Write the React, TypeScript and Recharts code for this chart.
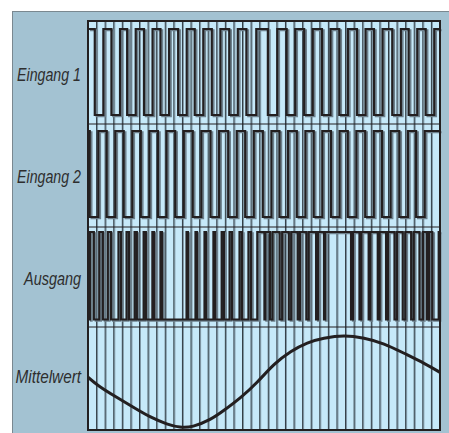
import React from 'react';
import { ComposedChart, Line, XAxis, YAxis, ReferenceLine } from 'recharts';

// ---------- data (time in grid units, 41 cells across) ----------
const gridTicks = [1, 2, 3, 4, 5, 6, 7, 8, 9, 10, 11, 12, 13, 14, 15, 16, 17, 18, 19, 20,
  21, 22, 23, 24, 25, 26, 27, 28, 29, 30, 31, 32, 33, 34, 35, 36, 37, 38, 39, 40];

const rowLabels = ['Eingang 1', 'Eingang 2', 'Ausgang', 'Mittelwert'];

const eingang1Start = 1;
const eingang1Edges = [0.79, 1.79, 2.73, 3.73, 4.56, 5.56, 6.52, 7.52, 8.44, 9.44, 10.5, 11.5,
  12.43, 13.43, 14.42, 15.42, 16.45, 17.45, 18.45, 19.6, 20.95, 22.05, 23.14, 24.14, 25.18, 26.18,
  27.25, 28.25, 29.27, 30.27, 31.33, 32.33, 33.31, 34.31, 35.44, 36.44, 37.35, 38.35, 39.33, 40.33];

const eingang2Start = 1;
const eingang2Edges = [0.2, 1.2, 2.18, 3.18, 4.16, 5.16, 6.15, 7.15, 8.15, 9.15, 10.16, 11.16,
  12.2, 13.2, 14.27, 15.27, 16.33, 17.33, 18.31, 19.31, 20.36, 21.36, 22.3, 23.3, 24.32, 25.32,
  26.29, 27.29, 28.3, 29.3, 30.26, 31.26, 32.29, 33.29, 34.25, 35.25, 36.26, 37.26, 38.22, 39.22];

const ausgangStart = 0;
const ausgangEdges = [0.22, 0.68, 1.31, 1.73, 2.31, 2.69, 3.55, 3.85, 4.49, 4.77, 5.43, 5.69,
  6.48, 6.74, 7.5, 7.7, 8.44, 8.62, 11.48, 11.64, 12.52, 12.7, 13.57, 13.75, 14.61, 14.81,
  15.57, 15.83, 16.49, 16.77, 17.65, 17.93, 18.69, 18.99, 19.72, 20.55, 20.65, 21.2, 21.5,
  22.32, 22.62, 23.39, 23.67, 24.42, 24.68, 25.43, 25.71, 26.57, 26.79, 27.49, 27.61, 30.64,
  30.86, 31.62, 31.84, 32.69, 32.89, 33.75, 33.97, 34.72, 34.94, 35.7, 35.98, 36.66, 36.96,
  37.64, 37.94, 38.61, 39.01, 39.48, 39.73, 40.1, 40.85];

const mittelwertT = [0, 1.4, 3.34, 5.28, 7.22, 9.17, 10.72, 12.27, 14.21, 15.84, 17.79, 19.72,
  21.67, 23.61, 25.54, 27.49, 29.82, 32.15, 34.48, 36.81, 39.14, 41];
const mittelwertV = [54, 44, 33, 22.6, 12.8, 5.4, 2, 3, 10, 19.5, 33, 49, 67, 80.5, 89.5,
  94.5, 96.9, 94.5, 88.5, 78.9, 68.4, 59];

// ---------- layout ----------
const W = 449;
const H = 433;
const PL = 88, PT = 21, PR = 440, PB = 430;
const PH = PB - PT;
const T_END = 41;

const OUTER_BG = '#a3c2d2';
const PLOT_BG = '#c6e9f9';
const INK = '#231f20';
const SHADOW = '#6d808c';
const GRID = '#2f3a42';
const GRID_SHADOW = '#7f97a5';

function bandDomain(hiPx: number, loPx: number, hiVal: number, loVal: number): [number, number] {
  const k = (loPx - hiPx) / (hiVal - loVal);
  const dmax = hiVal + (hiPx - PT) / k;
  const dmin = dmax - PH / k;
  return [dmin, dmax];
}

function stepPoints(start: number, edges: number[]) {
  const pts: { t: number; v: number }[] = [{ t: 0, v: start }];
  let level = start;
  for (const e of edges) {
    level = 1 - level;
    pts.push({ t: e, v: level });
  }
  pts.push({ t: T_END, v: level });
  return pts;
}

const row1 = stepPoints(eingang1Start, eingang1Edges);
const row2 = stepPoints(eingang2Start, eingang2Edges);
const row3 = stepPoints(ausgangStart, ausgangEdges);
const row4 = mittelwertT.map((t, i) => ({ t, v: mittelwertV[i] }));

const d1 = bandDomain(29, 115, 1, 0);
const d2 = bandDomain(131, 217, 1, 0);
const d3 = bandDomain(232, 319.5, 1, 0);
const d4 = bandDomain(333, 429, 100, 0);

const separators = [124, 227, 327];
const labelBaselines = [81, 183, 284.5, 382.5];
const labelWidths = [64, 64, 57, 65.5];

const gridShape = (p: any) => (
  <g>
    <line x1={p.x1 + 1} y1={p.y1} x2={p.x2 + 1} y2={p.y2} stroke={GRID_SHADOW} strokeWidth={1} />
    <line x1={p.x1} y1={p.y1} x2={p.x2} y2={p.y2} stroke={GRID} strokeWidth={1} />
  </g>
);

const waveProps = {
  type: 'stepAfter' as const,
  dataKey: 'v',
  dot: false,
  activeDot: false,
  isAnimationActive: false,
  strokeLinejoin: 'miter' as const,
};

export default function App() {
  return (
    <div style={{ position: 'absolute', left: 0, top: 0, width: W, height: H, background: '#ffffff', overflow: 'hidden' }}>
      <style>{`.wave-shadow { transform: translate(1.8px, 1.2px); }`}</style>
      <div style={{ position: 'absolute', left: 12, top: 11, width: W - 12, height: H - 11, background: OUTER_BG,
        borderTop: '1px solid #7a8890', borderLeft: '1px solid #7a8890', boxSizing: 'border-box' }} />
      <div style={{ position: 'absolute', left: PL, top: PT, width: PR - PL, height: PB - PT, background: PLOT_BG }} />
      <div style={{ position: 'absolute', left: 0, top: 0 }}>
        <ComposedChart width={W} height={H} margin={{ top: PT, left: PL, right: W - PR, bottom: H - PB }}>
          <XAxis dataKey="t" type="number" domain={[0, T_END]} hide allowDataOverflow />
          <YAxis yAxisId="r1" type="number" domain={d1} hide allowDataOverflow />
          <YAxis yAxisId="r2" type="number" domain={d2} hide allowDataOverflow />
          <YAxis yAxisId="r3" type="number" domain={d3} hide allowDataOverflow />
          <YAxis yAxisId="r4" type="number" domain={d4} hide allowDataOverflow />
          {gridTicks.map((g) => (
            <ReferenceLine key={g} x={g} yAxisId="r1" shape={gridShape} />
          ))}
          <Line {...waveProps} data={row1} yAxisId="r1" stroke={SHADOW} strokeWidth={2} className="wave-shadow" />
          <Line {...waveProps} data={row2} yAxisId="r2" stroke={SHADOW} strokeWidth={2} className="wave-shadow" />
          <Line {...waveProps} data={row3} yAxisId="r3" stroke={SHADOW} strokeWidth={2} className="wave-shadow" />
          <Line {...waveProps} data={row1} yAxisId="r1" stroke={INK} strokeWidth={2.2} />
          <Line {...waveProps} data={row2} yAxisId="r2" stroke={INK} strokeWidth={2.2} />
          <Line {...waveProps} data={row3} yAxisId="r3" stroke={INK} strokeWidth={2.2} />
          <Line type="natural" dataKey="v" data={row4} yAxisId="r4" stroke={INK} strokeWidth={3}
            dot={false} activeDot={false} isAnimationActive={false} />
        </ComposedChart>
      </div>
      <svg width={W} height={H} style={{ position: 'absolute', left: 0, top: 0, pointerEvents: 'none' }}>
        {separators.map((y) => (
          <line key={y} x1={PL} x2={PR} y1={y} y2={y} stroke={INK} strokeWidth={1.2} />
        ))}
        <rect x={PL} y={PT} width={PR - PL} height={PB - PT} fill="none" stroke={INK} strokeWidth={2} />
        {rowLabels.map((s, i) => (
          <text key={s} x={81} y={labelBaselines[i]} textAnchor="end" fill="#2e2e2e"
            textLength={labelWidths[i]} lengthAdjust="spacingAndGlyphs"
            style={{ fontFamily: '"Liberation Sans", Arial, sans-serif', fontStyle: 'italic', fontSize: 17.5 }}>
            {s}
          </text>
        ))}
      </svg>
    </div>
  );
}
